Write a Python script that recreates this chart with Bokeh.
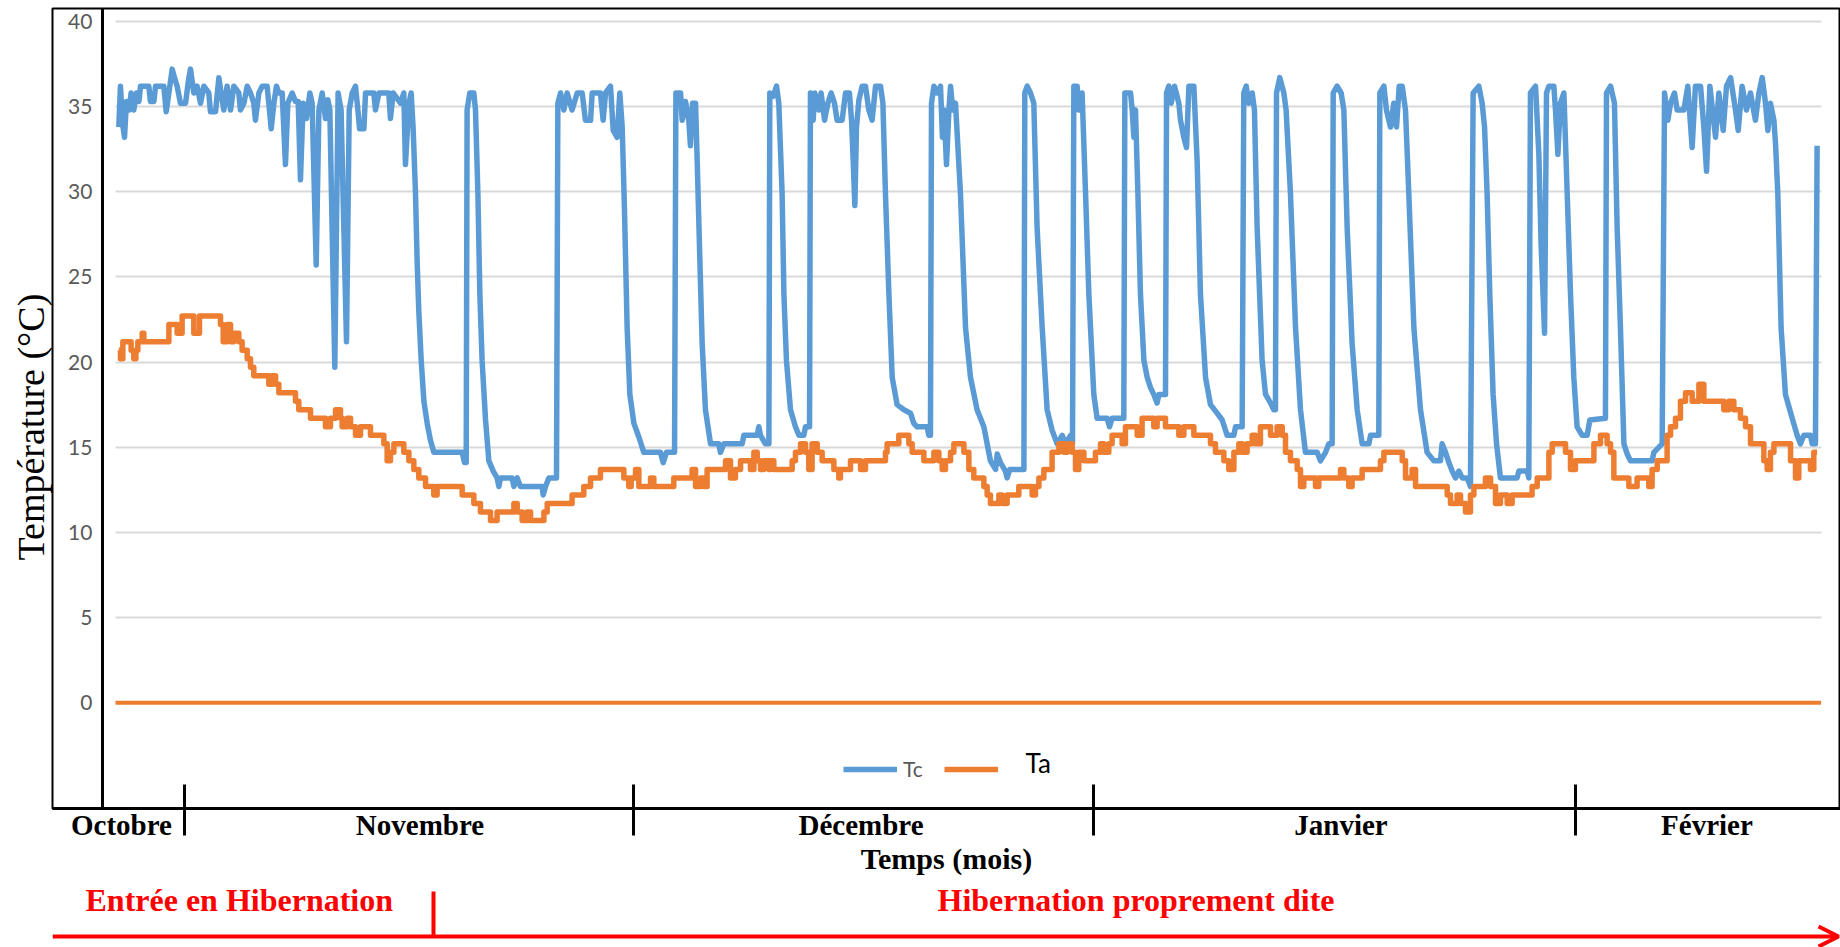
from bokeh.plotting import figure
from bokeh.models import Range1d, FixedTicker, Legend, LegendItem, Label, Arrow, OpenHead, Title
from bokeh.layouts import column
from bokeh.embed import file_html
from bokeh.resources import INLINE
from bokeh.core.properties import value

# ---------------- data (x = days since 1 November) ----------------
tc_day = [-4.38, -4.27, -4.13, -4.0, -3.87, -3.69, -3.56, -3.38, -3.2, -3.04, -2.93, -2.38, -2.27, -2.04, -1.93,
          -1.38, -1.22, -1.04, -0.82, -0.67, -0.49, -0.27, 0.07, 0.29, 0.40, 0.62, 0.84, 1.07, 1.29, 1.62, 1.73,
          2.07, 2.29, 2.44, 2.62, 2.84, 3.07, 3.29, 3.62, 3.73, 3.96, 4.18, 4.4, 4.62, 4.73, 4.96, 5.18, 5.51,
          5.62, 5.78, 5.96, 6.13, 6.29, 6.51, 6.73, 6.89, 7.18, 7.4, 7.58, 7.73, 7.91, 8.13, 8.36, 8.51, 8.78,
          8.96, 9.18, 9.4, 9.56, 9.69, 10.02, 10.24, 10.44, 10.8, 10.98, 11.18, 11.4, 11.56, 11.67, 11.96, 12.07,
          12.62, 12.73, 12.96, 13.62, 13.73, 13.91, 14.4, 14.62, 14.73, 14.96, 15.11, 15.24, 15.4, 15.51, 15.62,
          15.78, 15.96, 16.18, 16.4, 16.62, 18.51, 18.67, 18.78, 18.84, 19.02, 19.29, 19.4, 19.56, 19.69, 19.84,
          20.07, 20.29, 20.58, 20.84, 20.96, 21.07, 21.84, 21.96, 22.18, 22.4, 23.84, 23.91, 24.07, 24.29, 24.8,
          24.89, 25.07, 25.29, 25.51, 25.84, 26.18, 26.51, 26.73, 27.07, 27.18, 27.73, 27.91, 28.07, 28.4, 28.58,
          28.84, 29.02, 29.18, 29.33, 29.51, 29.69, 29.96, 30.29, 30.62, 31.73, 31.91, 32.13, 32.67, 32.76, 33.07,
          33.18, 33.4, 33.62, 33.73, 33.87, 34.07, 34.18, 34.36, 34.51, 34.73, 35.07, 35.62, 35.73, 35.96, 37.18,
          37.29, 38.18, 38.29, 38.4, 38.73, 38.96, 39.02, 39.24, 39.47, 39.62, 39.84, 39.96, 40.13, 40.4, 40.73,
          40.96, 41.29, 41.4, 41.67, 41.73, 41.91, 42.02, 42.29, 42.44, 42.67, 42.89, 43.11, 43.33, 43.51, 43.84,
          44.07, 44.33, 44.47, 44.58, 44.69, 44.8, 44.96, 45.18, 45.4, 45.62, 45.84, 46.07, 46.4, 46.56, 46.73,
          46.96, 47.18, 47.51, 47.96, 48.4, 48.62, 48.84, 49.51, 49.62, 49.73, 49.8, 49.96, 50.18, 50.4, 50.53,
          50.64, 50.8, 50.96, 51.07, 51.22, 51.4, 51.73, 52.07, 52.4, 52.84, 53.29, 53.73, 54.07, 54.18, 54.4,
          54.73, 54.84, 55.02, 55.96, 56.02, 56.18, 56.4, 56.62, 56.84, 57.18, 57.51, 57.84, 58.18, 58.51, 58.73,
          59.07, 59.2, 59.29, 59.51, 59.62, 59.84, 60.07, 60.29, 60.62, 60.84, 61.51, 61.67, 61.84, 62.62, 62.69,
          63.07, 63.18, 63.29, 63.4, 63.56, 63.73, 63.96, 64.18, 64.4, 64.62, 64.84, 64.96, 65.4, 65.47, 65.62,
          65.78, 66.0, 66.29, 66.4, 66.62, 66.8, 66.96, 67.29, 67.51, 67.73, 68.07, 68.4, 68.84, 69.18, 69.51,
          69.96, 70.07, 70.51, 70.62, 70.78, 70.96, 71.18, 71.33, 71.51, 71.84, 72.07, 72.4, 72.62, 72.73, 72.8,
          73.02, 73.29, 73.44, 73.73, 74.07, 74.4, 74.73, 75.51, 75.73, 76.07, 76.29, 76.51, 76.58, 76.84, 77.11,
          77.29, 77.51, 77.84, 78.18, 78.51, 78.96, 79.07, 79.62, 79.69, 79.96, 80.13, 80.4, 80.62, 80.8, 80.98,
          81.18, 81.4, 81.62, 81.96, 82.4, 82.84, 83.29, 83.73, 83.84, 84.07, 84.29, 84.51, 84.73, 84.96, 85.18,
          85.51, 85.73, 85.91, 86.29, 86.51, 86.67, 86.84, 87.02, 87.24, 87.47, 87.73, 88.84, 88.96, 89.51, 89.62,
          89.73, 90.07, 90.29, 90.44, 90.67, 90.8, 90.96, 91.29, 91.4, 91.56, 91.73, 91.96, 92.18, 92.4, 92.62,
          92.84, 93.18, 93.51, 93.69, 94.73, 94.8, 95.07, 95.33, 95.51, 95.73, 95.96, 96.18, 96.4, 97.84, 97.96,
          98.51, 98.67, 98.89, 99.07, 99.33, 99.51, 99.96, 100.22, 100.51, 100.73, 101.07, 101.29, 101.47, 101.69,
          102.07, 102.29, 102.58, 102.8, 103.07, 103.4, 103.58, 103.84, 104.13, 104.4, 104.73, 104.96, 105.18,
          105.4, 105.56, 105.73, 105.96, 106.07, 106.22, 106.44, 106.73, 107.18, 107.51, 107.73, 107.96, 108.4,
          108.51, 108.73, 108.84]
tc_val = [33.8, 36.2, 34.0, 33.2, 35.3, 34.8, 35.8, 34.8, 35.8, 35.3, 36.2, 36.2, 35.3, 35.3, 36.2,
          36.2, 34.7, 35.8, 37.2, 36.7, 36.2, 35.2, 35.2, 36.7, 37.2, 35.8, 36.2, 35.2, 36.2, 35.8, 34.7,
          34.7, 36.7, 35.8, 34.8, 36.2, 34.8, 36.2, 35.8, 34.8, 35.2, 36.2, 35.8, 35.2, 34.2, 35.8, 36.2, 36.2,
          35.2, 33.7, 35.2, 36.2, 35.8, 35.8, 31.6, 35.2, 35.8, 35.3, 35.3, 30.7, 35.2, 34.3, 35.8, 35.2, 25.7,
          34.8, 35.8, 34.3, 35.4, 34.8, 19.7, 35.8, 34.8, 21.2, 34.8, 35.8, 36.2, 34.8, 33.7, 33.7, 35.8,
          35.8, 34.8, 35.8, 35.8, 34.3, 35.8, 35.2, 35.8, 31.6, 35.2, 35.8, 33.8, 29.9, 25.9, 23.0,
          20.1, 17.7, 16.4, 15.4, 14.7, 14.7, 14.1, 14.1, 34.8, 35.8, 35.8, 34.8, 29.9, 24.0, 20.1,
          16.6, 14.2, 13.6, 13.2, 12.7, 13.2, 13.2, 12.7, 13.2, 12.7, 12.7, 12.2, 12.7, 13.2, 13.2,
          35.2, 35.8, 34.8, 35.8, 34.8, 35.8, 35.8, 34.2, 34.2, 35.8, 35.8, 34.2, 35.8, 36.2, 33.6,
          33.2, 35.8, 33.8, 29.0, 22.0, 18.1, 16.4, 15.6, 14.7, 14.7, 14.1, 14.7, 14.7, 35.8, 35.8,
          34.2, 35.3, 34.2, 32.7, 35.2, 35.2, 31.8, 25.9, 21.1, 17.2, 15.2, 15.2, 14.7, 15.2, 15.2,
          15.7, 15.7, 16.2, 15.7, 15.2, 15.2, 35.8, 35.6, 36.2, 35.2, 29.9, 24.0, 20.1, 17.2, 16.2,
          15.7, 15.7, 16.2, 16.2, 35.8, 34.2, 35.8, 34.8, 35.8, 34.2, 35.2, 35.8, 35.2, 34.2, 34.2,
          35.8, 35.8, 34.2, 31.8, 29.2, 33.8, 35.4, 36.2, 36.2, 34.8, 34.2, 36.2, 36.2, 35.2, 29.9,
          24.0, 19.1, 17.5, 17.2, 17.0, 16.4, 16.2, 16.2, 15.7, 15.7, 35.2, 36.2, 35.8, 36.2, 33.2,
          34.8, 31.6, 34.8, 36.2, 34.8, 35.2, 29.9, 22.0, 19.1, 17.2, 16.2, 14.2, 13.7, 14.6, 14.1,
          13.6, 13.2, 13.7, 13.7, 35.8, 36.2, 35.8, 35.2, 27.9, 22.0, 17.2, 16.0, 15.2, 15.7, 15.2,
          15.7, 15.2, 36.2, 36.2, 34.8, 35.8, 29.9, 24.0, 18.1, 16.7, 16.7, 16.2, 16.7, 16.7, 35.8,
          35.8, 34.8, 33.2, 34.8, 29.9, 24.0, 20.1, 19.1, 18.5, 18.1, 17.6, 18.1, 18.1, 35.8, 36.2,
          35.2, 36.2, 35.2, 34.2, 33.2, 32.6, 36.2, 36.2, 31.8, 24.0, 19.1, 17.5, 17.0, 16.6, 15.7,
          15.7, 16.2, 16.2, 35.8, 36.2, 35.2, 35.8, 34.8, 27.9, 20.1, 18.1, 17.6, 17.2, 17.2, 35.8,
          36.7, 35.8, 34.8, 29.9, 22.0, 17.2, 14.7, 14.7, 14.2, 14.7, 15.2, 15.2, 35.8, 36.2, 35.8,
          34.8, 27.9, 21.1, 17.2, 15.2, 15.2, 15.7, 15.7, 35.8, 36.2, 34.8, 33.8, 35.2, 33.8, 36.2,
          36.2, 34.8, 29.9, 22.0, 17.2, 14.7, 14.2, 14.2, 15.2, 14.7, 14.1, 13.6, 13.2, 13.6, 13.2,
          13.2, 12.7, 35.8, 36.2, 35.2, 33.8, 29.9, 24.0, 18.1, 15.2, 13.2, 13.2, 13.6, 13.6, 13.2,
          35.8, 36.2, 32.2, 26.9, 21.7, 35.8, 36.2, 36.2, 34.8, 32.2, 35.2, 35.8, 29.9, 24.0, 19.1,
          16.2, 15.7, 15.7, 16.6, 16.7, 35.8, 36.2, 35.2, 27.9, 22.0, 15.2, 14.6, 14.2, 14.2, 14.7,
          15.2, 35.8, 34.2, 35.2, 35.8, 34.8, 34.8, 36.2, 32.6, 36.2, 36.2, 33.8, 31.2, 36.2,
          33.2, 35.8, 33.6, 36.2, 36.7, 34.8, 33.6, 36.2, 34.8, 35.8, 34.2, 35.8, 36.7,
          35.2, 33.6, 35.2, 34.2, 32.8, 29.9, 22.0, 18.1, 16.7, 15.7, 15.2, 15.7, 15.7,
          15.2, 15.2, 32.7]

ta_day = [-4.38, -4.27, -4.11, -3.71, -3.56, -3.38, -3.24, -3.11, -2.82, -2.71, -1.16, -1.04, -0.71, -0.49,
          -0.16, 0.51, 0.62, 0.89, 1.0, 2.29, 2.4, 2.58, 2.84, 3.07, 3.29, 3.62, 3.84, 4.18, 4.4, 4.62, 5.51,
          5.62, 5.84, 6.07, 6.29, 7.18, 7.4, 7.62, 8.4, 9.29, 9.4, 9.73, 10.07, 10.4, 10.51, 10.84, 11.07, 11.4,
          11.73, 12.4, 13.29, 13.51, 13.73, 13.96, 14.62, 14.96, 15.29, 15.62, 16.07, 16.62, 16.84, 18.51, 19.29,
          19.73, 20.4, 20.84, 21.96, 22.18, 22.51, 22.84, 23.07, 23.96, 24.18, 25.84, 26.62, 27.07, 27.73, 29.29,
          29.62, 29.78, 30.07, 30.29, 31.07, 31.29, 32.62, 33.84, 34.07, 34.4, 34.62, 34.84, 36.07, 36.4, 36.73,
          37.07, 37.73, 37.96, 38.18, 38.4, 38.62, 38.96, 39.07, 39.29, 40.51, 40.73, 41.07, 41.4, 41.62, 41.84,
          42.18, 42.51, 43.29, 43.62, 43.73, 44.4, 45.07, 45.4, 46.73, 46.84, 47.62, 48.29, 48.51, 49.29, 49.96,
          50.29, 50.51, 50.73, 51.07, 51.29, 51.96, 52.29, 52.62, 53.29, 53.51, 53.73, 54.29, 54.51, 54.84, 55.62,
          56.51, 56.73, 56.96, 57.29, 57.84, 58.29, 58.62, 58.84, 59.18, 59.4, 59.62, 59.96, 60.73, 61.07, 61.29,
          61.62, 61.84, 62.51, 62.73, 63.51, 63.84, 64.62, 64.84, 65.4, 66.29, 66.62, 67.29, 68.4, 68.73, 69.29,
          69.62, 69.96, 70.29, 70.51, 70.84, 71.18, 71.4, 71.73, 72.4, 72.84, 73.18, 73.4, 73.73, 74.18, 74.4,
          74.62, 75.4, 75.62, 77.07, 77.29, 77.62, 77.84, 78.51, 79.73, 79.96, 81.18, 81.4, 81.84, 82.07, 84.18,
          84.4, 84.84, 85.07, 85.4, 85.73, 85.96, 86.73, 87.07, 87.4, 87.73, 88.18, 88.51, 89.84, 90.18, 90.96,
          91.18, 92.07, 92.4, 92.73, 93.96, 94.4, 94.84, 95.07, 95.29, 96.29, 96.84, 97.62, 97.84, 98.18, 98.84,
          99.07, 99.4, 99.73, 100.07, 100.51, 100.96, 101.29, 102.62, 102.96, 103.29, 103.73, 104.07, 104.4,
          105.29, 105.51, 105.73, 105.96, 107.07, 107.4, 107.62, 108.4, 108.62, 108.84]
ta_val = [20.7, 20.2, 21.2, 21.2, 20.7, 20.2, 20.7, 21.2, 21.7, 21.2, 21.2, 22.2, 22.2, 21.7,
          22.7, 22.7, 21.7, 21.7, 22.7, 22.7, 22.2, 21.2, 22.2, 21.2, 21.7, 21.2, 20.7, 20.2, 19.7, 19.2, 19.2,
          18.7, 19.2, 18.7, 18.2, 18.2, 17.7, 17.2, 16.7, 16.7, 16.2, 16.7, 17.2, 16.7, 16.2, 16.7, 16.2, 15.7,
          16.2, 15.7, 15.2, 14.2, 14.7, 15.2, 14.7, 14.2, 13.7, 13.2, 12.7, 12.2, 12.7, 12.2, 11.7,
          11.2, 10.7, 11.2, 11.7, 11.2, 10.7, 11.2, 10.7, 11.2, 11.7, 12.2, 12.7, 13.2, 13.7, 13.2,
          12.7, 13.2, 13.7, 12.7, 13.2, 12.7, 13.2, 13.7, 12.7, 13.2, 12.7, 13.7, 14.2, 13.2, 13.7,
          14.2, 13.7, 14.7, 14.2, 13.7, 14.2, 13.7, 14.2, 13.7, 14.2, 14.7, 15.2, 14.7, 13.7, 15.2,
          14.7, 14.2, 13.7, 13.2, 13.7, 14.2, 13.7, 14.2, 14.7, 15.2, 15.7, 15.2, 14.7, 14.2, 14.7,
          14.2, 13.7, 14.2, 14.7, 15.2, 14.7, 13.7, 13.2, 12.7, 12.2, 11.7, 12.2, 11.7, 12.2, 12.7,
          12.2, 12.7, 13.2, 13.7, 14.7, 15.2, 14.7, 15.2, 14.7, 13.7, 14.7, 14.2, 14.7, 15.2, 14.7,
          15.2, 15.7, 15.2, 16.2, 15.7, 16.7, 16.2, 16.7, 16.2, 15.7, 16.2, 15.7, 15.2, 14.7, 14.2,
          13.7, 14.7, 15.2, 14.7, 15.2, 15.7, 15.2, 16.2, 15.7, 16.2, 15.7, 14.7, 14.2, 13.7, 12.7,
          13.2, 12.7, 13.2, 13.7, 13.2, 12.7, 13.2, 13.7, 14.2, 14.7, 14.2, 13.2, 13.7, 12.7, 12.2,
          11.7, 12.2, 11.7, 11.2, 12.2, 12.7, 13.2, 12.7, 11.7, 12.2, 11.7, 12.2, 12.7, 13.2, 14.7,
          15.2, 14.7, 13.7, 14.2, 15.2, 15.7, 15.2, 14.7, 13.2, 12.7, 13.2, 12.7, 13.7, 14.2, 15.7,
          16.2, 16.7, 17.7, 18.2, 17.7, 18.7, 17.7, 17.2, 17.7, 17.2, 16.7, 16.2, 15.2,
          14.2, 13.7, 14.7, 15.2, 14.2, 13.2, 14.2, 13.7, 14.7, 14.7]

zero_day = [-4.6, 109.1]
zero_val = [0.0, 0.0]

y_ticks = [0, 5, 10, 15, 20, 25, 30, 35, 40]
month_names = ["Octobre", "Novembre", "Décembre", "Janvier", "Février"]
month_centers = [-4.2, 15.7, 45.1, 77.1, 101.5]
month_bounds = [0.0, 29.9, 60.6, 92.7]

BLUE = "#5B9BD5"
ORANGE = "#ED7D31"
RED = "#FF0000"
SERIF = "Liberation Serif"

X0, X1 = -8.8, 110.4
Y0, Y1 = -6.21, 40.76

p = figure(width=1840, height=880, x_range=Range1d(X0, X1), y_range=Range1d(Y0, Y1),
           output_backend="svg", toolbar_location=None,
           min_border_left=52, min_border_right=0, min_border_top=8, min_border_bottom=72)
p.background_fill_color = "white"
p.border_fill_color = "white"
p.outline_line_color = "black"
p.outline_line_width = 2

# y axis (drawn inside the box)
ya = p.yaxis[0]
ya.fixed_location = -5.47
ya.ticker = FixedTicker(ticks=y_ticks)
ya.major_tick_in = 0
ya.major_tick_out = 0
ya.minor_tick_in = 0
ya.minor_tick_out = 0
ya.axis_line_color = "black"
ya.axis_line_width = 3
ya.major_label_text_font = "Lato"
ya.major_label_text_font_size = "21px"
ya.major_label_text_color = "#595959"
ya.major_label_standoff = 10

p.add_layout(Title(text="Température  (°C)", align="left", offset=248, vertical_align="middle",
                   standoff=0, text_font=SERIF, text_font_style="normal", text_font_size="38px",
                   text_color="black"), "left")

# x axis: month names centred, month boundaries as ticks
xa = p.xaxis[0]
overrides = {}
for c, n in zip(month_centers, month_names):
    overrides[c] = n
    overrides[str(c)] = n
xa.ticker = FixedTicker(ticks=month_centers, minor_ticks=month_bounds)
xa.major_label_overrides = overrides
xa.major_tick_in = 0
xa.major_tick_out = 0
xa.minor_tick_in = 24
xa.minor_tick_out = 27
xa.minor_tick_line_color = "black"
xa.minor_tick_line_width = 3
xa.axis_line_color = "black"
xa.axis_line_width = 3
xa.major_label_text_font = SERIF
xa.major_label_text_font_style = "bold"
xa.major_label_text_font_size = "29px"
xa.major_label_text_color = "black"
xa.major_label_standoff = -27
xa.axis_label = "Temps (mois)"
xa.axis_label_text_font = SERIF
xa.axis_label_text_font_style = "bold"
xa.axis_label_text_font_size = "30px"
xa.axis_label_text_color = "black"
xa.axis_label_standoff = -2

p.xgrid.visible = False
p.ygrid.grid_line_color = "#D9D9D9"
p.ygrid.grid_line_width = 2
try:
    p.ygrid.cross_bounds = (zero_day[0], zero_day[1])
except Exception:
    p.ygrid.visible = False
    p.segment(x0=[zero_day[0]] * len(y_ticks), y0=y_ticks, x1=[zero_day[1]] * len(y_ticks), y1=y_ticks,
              line_color="#D9D9D9", line_width=2, level="underlay")

zero_r = p.line(zero_day, zero_val, line_color=ORANGE, line_width=4)
tc_r = p.line(tc_day, tc_val, line_color=BLUE, line_width=5.5, line_join="round")
ta_r = p.step(ta_day, ta_val, mode="after", line_color=ORANGE, line_width=5.5, line_join="round")

legend = Legend(items=[LegendItem(label="Tc", renderers=[tc_r]), LegendItem(label=" ", renderers=[ta_r])],
                location=(791, 27), orientation="horizontal", glyph_width=54, glyph_height=24,
                label_height=24, label_standoff=6, spacing=21, padding=0, margin=0,
                border_line_alpha=0, background_fill_alpha=0,
                label_text_font="Lato", label_text_font_size="21px", label_text_color="#595959")
p.add_layout(legend)
p.add_layout(Label(x=56.07, y=-3.56, text="Ta", text_font="Lato", text_font_size="26px",
                   text_color="black", text_align="left", text_baseline="middle"))

# ---------------- bottom strip: hibernation phases ----------------
p2 = figure(width=1840, height=67, x_range=p.x_range, y_range=Range1d(67, 0),
            output_backend="svg", toolbar_location=None, x_axis_type=None, y_axis_type=None,
            min_border_left=52, min_border_right=0, min_border_top=0, min_border_bottom=0)
p2.grid.visible = False
p2.outline_line_color = None
p2.background_fill_color = "white"
p2.border_fill_color = "white"

p2.text(x=[-6.6], y=[19], text=["Entrée en Hibernation"], text_font=value(SERIF), text_font_style="bold",
        text_font_size="32px", text_color=RED, text_align="left", text_baseline="middle")
p2.text(x=[50.2], y=[19], text=["Hibernation proprement dite"], text_font=value(SERIF), text_font_style="bold",
        text_font_size="32px", text_color=RED, text_align="left", text_baseline="middle")
p2.segment(x0=[16.6], y0=[11], x1=[16.6], y1=[56], line_color=RED, line_width=4)
p2.add_layout(Arrow(x_start=X0, y_start=56, x_end=110.27, y_end=56, line_color=RED, line_width=4,
                    end=OpenHead(line_color=RED, line_width=4, size=20)))

layout = column(p, p2)
open("out.html", "w").write(file_html(layout, INLINE))
